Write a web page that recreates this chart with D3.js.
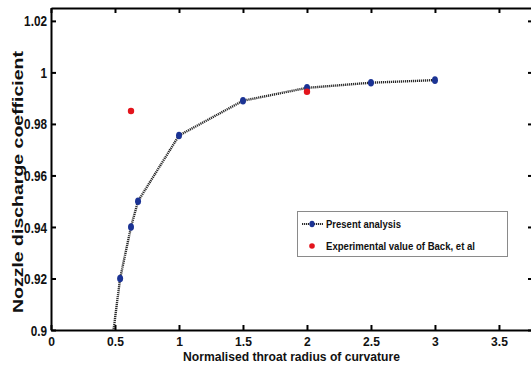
<!DOCTYPE html>
<html>
<head>
<meta charset="utf-8">
<script src="https://cdn.jsdelivr.net/npm/d3@7"></script>
<style>
  html, body { margin: 0; padding: 0; background: #fff; }
  svg { display: block; }
  text { font-family: "Liberation Sans", Arial, sans-serif; font-weight: bold; fill: #111; }
</style>
</head>
<body>
<svg id="chart" width="531" height="374"></svg>
<script>
// Present analysis: discharge coefficient vs normalised throat radius of curvature
const radius = [0.45, 0.54, 0.625, 0.68, 1.0, 1.5, 2.0, 2.5, 3.0];
const dischargeCoef = [0.885, 0.92, 0.94, 0.95, 0.9755, 0.989, 0.994, 0.996, 0.997];
// Experimental values of Back, et al
const expRadius = [0.625, 2.0];
const expCoef = [0.985, 0.9925];
// Axis ticks
const xTicks = [0, 0.5, 1, 1.5, 2, 2.5, 3, 3.5];
const yTicks = [0.9, 0.92, 0.94, 0.96, 0.98, 1, 1.02];

const svg = d3.select("#chart");
const plotL = 51, plotR = 533, plotT = 8, plotB = 330;

const x = d3.scaleLinear().domain([0, 3.766]).range([plotL, plotR]);
const y = d3.scaleLinear().domain([0.9, 1.025]).range([plotB, plotT]);

const fmt = d => String(+d.toFixed(2));

// squeeze text horizontally to a narrow face
function narrow(sel, factor) {
  sel.each(function () {
    const w = this.getComputedTextLength();
    d3.select(this).attr("textLength", w * factor).attr("lengthAdjust", "spacingAndGlyphs");
  });
}

svg.append("clipPath").attr("id", "plotClip")
  .append("rect").attr("x", plotL).attr("y", plotT).attr("width", plotR - plotL).attr("height", plotB - plotT);

// Axes with inward ticks on all four sides
const axB = svg.append("g").attr("transform", `translate(0,${plotB})`)
  .call(d3.axisBottom(x).tickValues(xTicks).tickSizeInner(-5).tickSizeOuter(0).tickPadding(7).tickFormat(fmt));
const axT = svg.append("g").attr("transform", `translate(0,${plotT})`)
  .call(d3.axisTop(x).tickValues(xTicks).tickSizeInner(-5).tickSizeOuter(0).tickFormat(""));
const axL = svg.append("g").attr("transform", `translate(${plotL},0)`)
  .call(d3.axisLeft(y).tickValues(yTicks).tickSizeInner(-5).tickSizeOuter(0).tickPadding(4).tickFormat(fmt));
const axR = svg.append("g").attr("transform", `translate(${plotR},0)`)
  .call(d3.axisRight(y).tickValues(yTicks).tickSizeInner(-5).tickSizeOuter(0).tickFormat(""));

[axB, axT, axL, axR].forEach(g => {
  g.select(".domain").attr("stroke", "#000").attr("stroke-width", 2);
  g.selectAll(".tick line").attr("stroke", "#000").attr("stroke-width", 2);
  g.selectAll("text").style("font-size", "14px").attr("fill", "#111")
    .style("font-family", "'Liberation Sans', Arial, sans-serif").style("font-weight", "bold");
});
axB.selectAll(".tick text").style("font-size", "13px").call(narrow, 0.93);
axL.selectAll(".tick text").call(narrow, 0.84);
axL.selectAll(".tick text").attr("dy", "0.36em");

// Analysis curve
const line = d3.line().x((d, i) => x(radius[i])).y(d => y(d));
const plot = svg.append("g").attr("clip-path", "url(#plotClip)");
plot.append("path").datum(dischargeCoef)
  .attr("d", line).attr("fill", "none")
  .attr("stroke", "#2a2a2a").attr("stroke-width", 2.4).attr("stroke-dasharray", "1.2,0.8");
plot.selectAll(".pt").data(dischargeCoef).enter().append("ellipse")
  .attr("cx", (d, i) => x(radius[i])).attr("cy", d => y(d))
  .attr("rx", 3).attr("ry", 3.8).attr("fill", "#1b3394");

// Experimental points
plot.selectAll(".exp").data(expCoef).enter().append("circle")
  .attr("cx", (d, i) => x(expRadius[i])).attr("cy", d => y(d))
  .attr("r", 3.2).attr("fill", "#e3141c");

// Axis titles
svg.append("text").attr("x", (plotL + 532) / 2).attr("y", 361).attr("text-anchor", "middle")
  .style("font-size", "13px").text("Normalised throat radius of curvature")
  .attr("textLength", 217).attr("lengthAdjust", "spacingAndGlyphs");
svg.append("text").attr("transform", "translate(23,182) rotate(-90)").attr("text-anchor", "middle")
  .style("font-size", "14px").text("Nozzle discharge coefficient")
  .attr("textLength", 262).attr("lengthAdjust", "spacingAndGlyphs");

// Legend
const lg = svg.append("g");
lg.append("rect").attr("x", 297.5).attr("y", 211.5).attr("width", 210).attr("height", 45)
  .attr("fill", "#fff").attr("stroke", "#8a8a8a").attr("stroke-width", 1);
lg.append("line").attr("x1", 302).attr("x2", 323).attr("y1", 224).attr("y2", 224)
  .attr("stroke", "#2a2a2a").attr("stroke-width", 2).attr("stroke-dasharray", "1.2,0.8");
lg.append("ellipse").attr("cx", 312).attr("cy", 224).attr("rx", 2.6).attr("ry", 3.3).attr("fill", "#1b3394");
lg.append("circle").attr("cx", 312).attr("cy", 246).attr("r", 2.8).attr("fill", "#e3141c");
lg.append("text").attr("x", 326).attr("y", 228).style("font-size", "11px").text("Present analysis")
  .attr("textLength", 75).attr("lengthAdjust", "spacingAndGlyphs");
lg.append("text").attr("x", 326).attr("y", 250).style("font-size", "11px").text("Experimental value of Back, et al")
  .attr("textLength", 149).attr("lengthAdjust", "spacingAndGlyphs");
</script>
</body>
</html>
